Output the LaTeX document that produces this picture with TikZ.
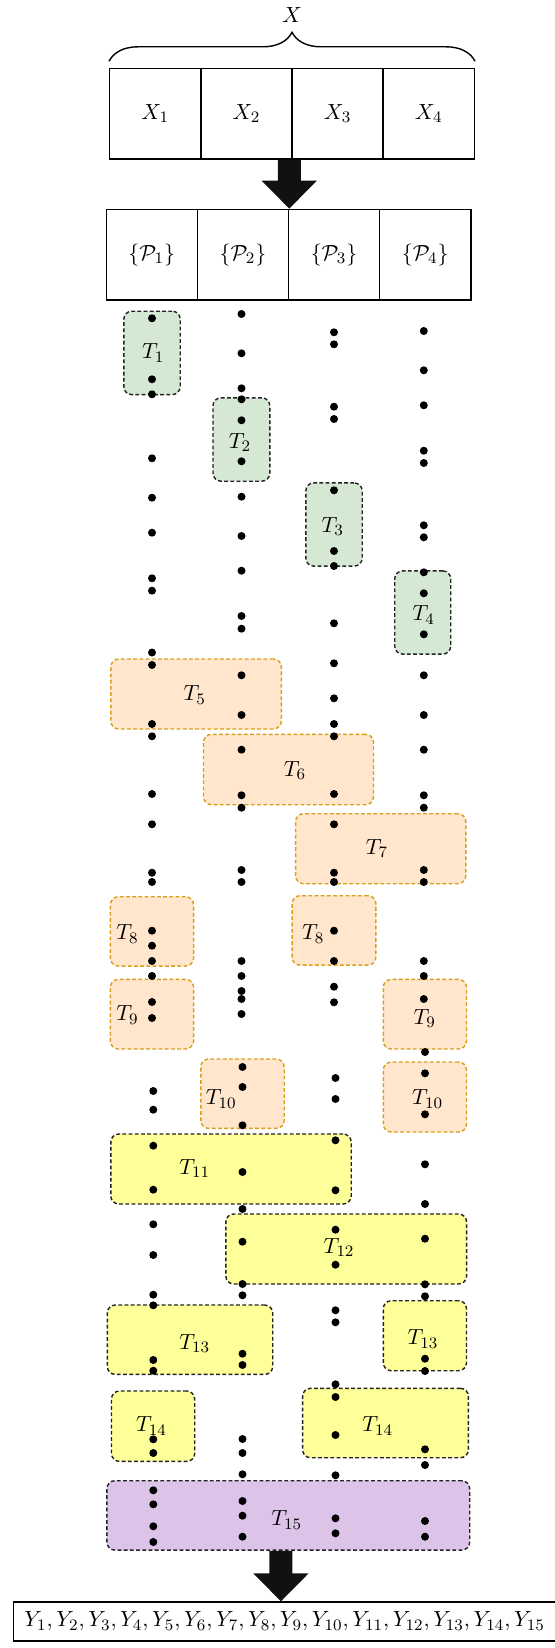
\documentclass[tikz,border=0pt]{standalone}
\usetikzlibrary{decorations.pathreplacing,calc}
\definecolor{greenf}{HTML}{D5E8D4}
\definecolor{orangef}{HTML}{FFE6CC}
\definecolor{oranged}{HTML}{D99E1A}
\definecolor{yellowf}{HTML}{FFFF99}
\definecolor{purplef}{HTML}{DCC3E8}
\definecolor{darkb}{HTML}{222222}
\definecolor{arrowc}{HTML}{111111}
\newcommand\tbx[6]{\node[#2, minimum width=#5pt, minimum height=#6pt] (#1) at (#3,#4) {};}
\newcommand\fatarrow[2]{%
  \fill[arrowc] ($(#1)+(-11.5,0)$) -- ($(#1)+(11.5,0)$) -- ($(#2)+(11.5,-28)$) -- ($(#2)+(27.7,-28)$) -- (#2) -- ($(#2)+(-27.7,-28)$) -- ($(#2)+(-11.5,-28)$) -- cycle;}
\begin{document}
\begin{tikzpicture}[x=0.5pt,y=-0.5pt, font=\fontsize{11}{13}\selectfont,
  cell/.style={draw, line width=0.7pt, minimum width=45.6pt, minimum height=45.35pt, inner sep=0pt},
  tb/.style={rounded corners=4pt, dash pattern=on 1.9pt off 1.2pt, line width=0.7pt, inner sep=0pt},
  gbox/.style={tb, draw=darkb, fill=greenf},
  obox/.style={tb, draw=oranged, fill=orangef},
  ybox/.style={tb, draw=darkb, fill=yellowf},
  pbox/.style={tb, draw=darkb, fill=purplef},
  lbl/.style={inner sep=0pt}]
\useasboundingbox (0,0) rectangle (555,1648);

% top row X
\node[cell] (X1) at (155.3,113.65) {$X_1$};
\node[cell] (X2) at (246.45,113.65) {$X_2$};
\node[cell] (X3) at (337.6,113.65) {$X_3$};
\node[cell] (X4) at (428.75,113.65) {$X_4$};
\draw[decorate, decoration={brace, amplitude=14.5pt}, line width=0.7pt]
  ($(X1.north west)+(0,-6.3)$) -- ($(X4.north east)+(0,-6.3)$);
\node (Xlab) at (292,15) {$X$};

% P row
\node[cell] (P1) at (151.8,254.65) {$\{\mathcal{P}_1\}$};
\node[cell] (P2) at (242.95,254.65) {$\{\mathcal{P}_2\}$};
\node[cell] (P3) at (334.1,254.65) {$\{\mathcal{P}_3\}$};
\node[cell] (P4) at (425.25,254.65) {$\{\mathcal{P}_4\}$};

\coordinate (a1t) at (P2.north east);
\coordinate (a1s) at (a1t |- X2.south);
\fatarrow{a1s}{a1t}

% task boxes
\tbx{T1}{gbox}{152}{352.9}{28.2}{41.7}
\tbx{T2}{gbox}{241.4}{439.5}{28.4}{41.7}
\tbx{T3}{gbox}{334}{524.5}{28.2}{41.6}
\tbx{T4}{gbox}{422.7}{612.5}{28.0}{41.6}
\tbx{T5}{obox}{196.1}{694}{85.3}{35}
\tbx{T6}{obox}{288.5}{769.5}{85}{35.2}
\tbx{T7}{obox}{380.7}{848.7}{85.1}{35}
\tbx{T8a}{obox}{152}{931.4}{41.6}{34.7}
\tbx{T8b}{obox}{334}{930.4}{41.9}{34.7}
\tbx{T9a}{obox}{152}{1014.2}{41.6}{34.8}
\tbx{T9b}{obox}{424.9}{1014.2}{41.6}{34.8}
\tbx{T10a}{obox}{242.5}{1093.7}{41.7}{34.7}
\tbx{T10b}{obox}{424.9}{1097}{41.6}{35}
\tbx{T11}{ybox}{231}{1169}{120.2}{35}
\tbx{T12}{ybox}{346.2}{1249}{120.4}{35}
\tbx{T13a}{ybox}{190}{1339.7}{82.7}{34.7}
\tbx{T13b}{ybox}{424.9}{1335.7}{41.6}{35}
\tbx{T14a}{ybox}{153.1}{1426.2}{41.6}{35.2}
\tbx{T14b}{ybox}{385.5}{1423}{82.9}{34.7}
\tbx{T15}{pbox}{288.3}{1515.4}{181.4}{34.7}

% labels
\node[lbl] (L1) at (153.3,353) {$T_1$};
\node[lbl] (L2) at (240,442.7) {$T_2$};
\node[lbl] (L3) at (332.7,526.7) {$T_3$};
\node[lbl] (L4) at (423.7,615) {$T_4$};
\node[lbl] (L5) at (194.7,695) {$T_5$};
\node[lbl] (L6) at (294.9,770.7) {$T_6$};
\node[lbl] (L7) at (377,848.3) {$T_7$};
\node[lbl] (L8a) at (127.4,934) {$T_8$};
\node[lbl] (L8b) at (313.3,934) {$T_8$};
\node[lbl] (L9a) at (127.4,1015) {$T_9$};
\node[lbl] (L9b) at (424.8,1018.3) {$T_9$};
\node[lbl] (L10a) at (221.2,1099) {$T_{10}$};
\node[lbl] (L10b) at (427.6,1099) {$T_{10}$};
\node[lbl] (L11) at (194.7,1168.3) {$T_{11}$};
\node[lbl] (L12) at (339.1,1247.7) {$T_{12}$};
\node[lbl] (L13a) at (194.7,1343.3) {$T_{13}$};
\node[lbl] (L13b) at (423,1339) {$T_{13}$};
\node[lbl] (L14a) at (151.5,1426) {$T_{14}$};
\node[lbl] (L14b) at (377.7,1426) {$T_{14}$};
\node[lbl] (L15) at (286.7,1520) {$T_{15}$};

% dots
\foreach \y in {318.3,379.3,394.3,458.3,497.7,532.7,578.3,590.7,652.5,665,724,736.3,794,824.3,872.7,882,930.7,945.7,961,976,1002,1018}
  \fill (152,\y) circle (2pt);
\foreach \y in {1091,1109.7,1145.7,1189.7,1224.3,1255,1294.7,1305.3,1360,1370.7,1439.3,1453,1490.3,1504.3,1526.3,1542}
  \fill (153.3,\y) circle (2pt);
\foreach \y in {314,353.3,388.3,399.3,420.3,461.3,496.7,536,570.7,616,628.7,675.3,715,749.7,795.3,807.7,870,882,961,976,991,999,1014}
  \fill (241.5,\y) circle (2pt);
\foreach \y in {1067,1087,1125.3,1172,1209,1241.7,1284,1295.3,1353.7,1365,1439,1453,1474.3,1501,1515.7,1536.7}
  \fill (242.5,\y) circle (2pt);
\foreach \y in {332.3,344.3,406.7,419,490.3,551,566,623.3,663.3,698.3,724,736.3,794,824.3,872.7,882,930.7,961,986.7,1002.3}
  \fill (334,\y) circle (2pt);
\foreach \y in {1078,1099,1140.3,1190.3,1229.7,1264.7,1310.3,1322.3,1384.3,1397,1435,1475.3,1518.3,1533.3}
  \fill (335.5,\y) circle (2pt);
\foreach \y in {331,370.3,405.3,450.7,463,525.3,537.3,572.3,593.3,634.3,675.3,715,749.7,795.3,807.7,870,882,961,976,999}
  \fill (423.8,\y) circle (2pt);
\foreach \y in {1052,1073.3,1114.3,1164.3,1204,1238.7,1284.3,1296.3,1358.7,1371,1449.3,1465,1521,1536.7}
  \fill (425,\y) circle (2pt);

% output
\node[draw, line width=0.7pt, minimum width=271.35pt, minimum height=19.5pt, inner sep=0pt] (Y) at (284.65,1621.5)
  {$Y_1, Y_2, Y_3, Y_4, Y_5, Y_6, Y_7, Y_8, Y_9, Y_{10}, Y_{11}, Y_{12}, Y_{13}, Y_{14}, Y_{15}$};
\coordinate (a2t) at ($(Y.north)+(-3.7,0)$);
\coordinate (a2s) at (a2t |- T15.south);
\fatarrow{a2s}{a2t}
\end{tikzpicture}
\end{document}
